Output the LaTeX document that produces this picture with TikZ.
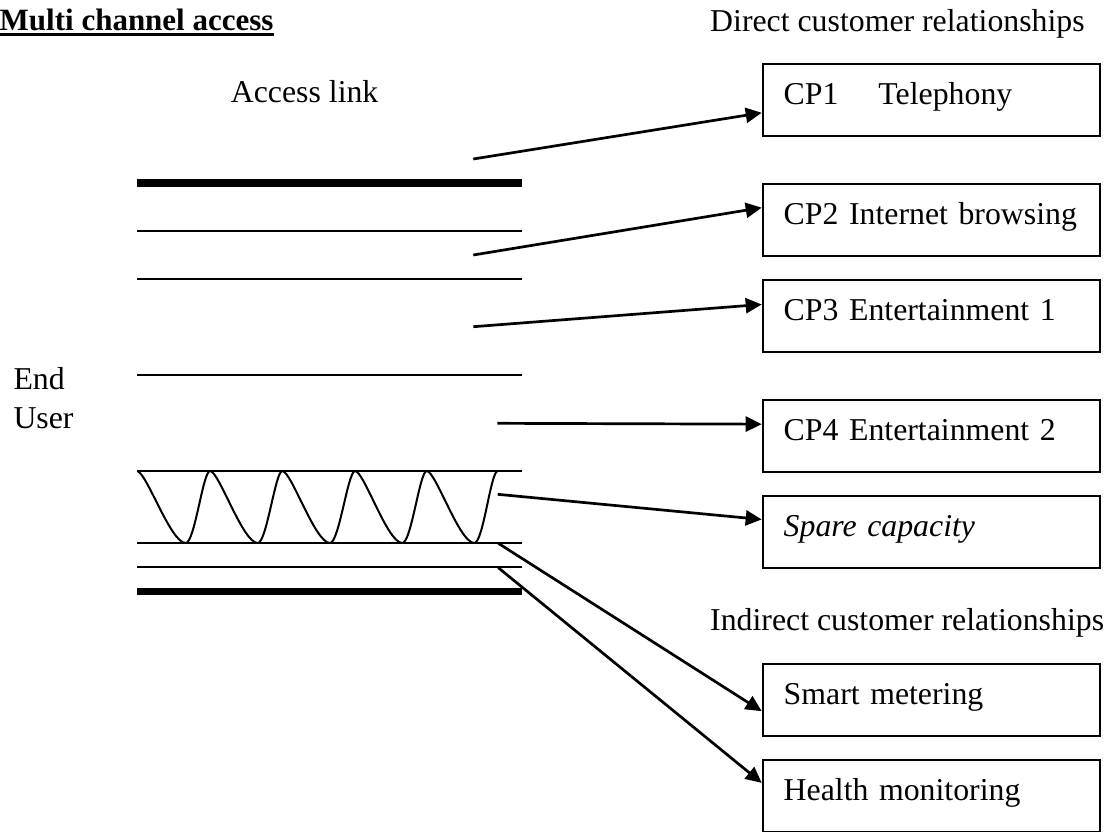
\documentclass[tikz,border=0pt]{standalone}
\usepackage{fontspec}
\setmainfont{Liberation Serif}
\usetikzlibrary{arrows.meta}
\begin{document}
\begin{tikzpicture}[x=1pt,y=-1pt,
  every node/.style={font=\fontsize{31.8}{39}\selectfont, inner sep=0pt},
  lbl/.style={anchor=base west},
  cpbox/.style={draw, line width=2pt, anchor=north west, inner xsep=21pt, inner ysep=0pt,
    text width=295.3pt, align=left, text height=20pt, text depth=11.1pt,
    minimum height=72.3pt},
  chan/.style={line width=2pt},
  edge/.style={line width=7.5pt},
  conn/.style={line width=2.7pt, -{Triangle[length=16pt,width=15pt]}}]
\useasboundingbox (0,0) rectangle (1115,831);

% title and headings
\node[lbl, font=\fontsize{31}{39}\selectfont\bfseries] (title) at (-0.5,30.7) {Multi channel access};
\draw[line width=3pt] ([yshift=-4pt]title.base west) -- ([yshift=-4pt]title.base east);
\node[lbl] (direct) at (710,31.7) {Direct customer relationships};
\node[lbl] (indirect) at (710,630) {Indirect customer relationships};
\node[lbl] (access) at (230.7,102.3) {Access link};
\node[lbl] (end) at (13.3,389) {End};
\node[lbl] (user) at (13.3,428.3) {User};

% access link channels
\draw[edge] (137.3,183) -- (522,183);
\draw[chan] (137.3,231) -- (522,231);
\draw[chan] (137.3,279) -- (522,279);
\draw[chan] (137.3,375) -- (522,375);
\draw[chan] (137.3,471) -- (522,471);
\draw[chan] (137.3,543.3) -- (522,543.3);
\draw[chan] (137.3,567.3) -- (522,567.3);
\draw[edge] (137.3,591.3) -- (522,591.3);

% spare capacity wave
\draw[chan] (137.3,471) .. controls (147.3,474) and (170.7,543) .. (185.7,543)
  .. controls (194.7,543) and (203,471) .. (210,471)
  .. controls (219,471) and (242.7,543) .. (257.7,543)
  .. controls (266.7,543) and (275.3,471) .. (282.3,471)
  .. controls (291.3,471) and (315,543) .. (330,543)
  .. controls (339,543) and (348,471) .. (355,471)
  .. controls (364,471) and (387.3,543) .. (402.3,543)
  .. controls (411.3,543) and (419.7,471) .. (426.7,471)
  .. controls (435.7,471) and (459.3,543) .. (474.3,543)
  .. controls (483.3,543) and (490.7,471) .. (497.7,471);

% boxes
\node[cpbox] (cp1) at (761.7,62.7) {CP1\kern 40pt Telephony};
\node[cpbox] (cp2) at (761.7,182.7) {CP2 Internet browsing};
\node[cpbox] (cp3) at (761.7,279) {CP3 Entertainment 1};
\node[cpbox] (cp4) at (761.7,399) {CP4 Entertainment 2};
\node[cpbox] (spare) at (761.7,495) {\itshape Spare capacity};
\node[cpbox] (smart) at (761.7,663) {Smart metering};
\node[cpbox] (health) at (761.7,759) {Health monitoring};

% connector start points
\coordinate (s1) at (473.3,159);
\coordinate (s2) at (473.3,255);
\coordinate (s3) at (473.3,326.7);
\coordinate (s4) at (497.3,423.3);
\coordinate (s5) at (497.7,494.3);
\coordinate (s6) at (498.3,543.3);
\coordinate (s7) at (498.3,567.7);

% connectors
\draw[conn] (s1) -- ([yshift=-12.9pt]cp1.west);
\draw[conn] (s2) -- ([yshift=12.2pt]cp2.west);
\draw[conn] (s3) -- ([yshift=11.7pt]cp3.west);
\draw[conn] (s4) -- ([yshift=12pt]cp4.west);
\draw[conn] (s5) -- ([yshift=12.7pt]spare.west);
\draw[conn] (s6) -- ([yshift=-11pt]smart.west);
\draw[conn] (s7) -- ([yshift=13.3pt]health.west);
\end{tikzpicture}
\end{document}
